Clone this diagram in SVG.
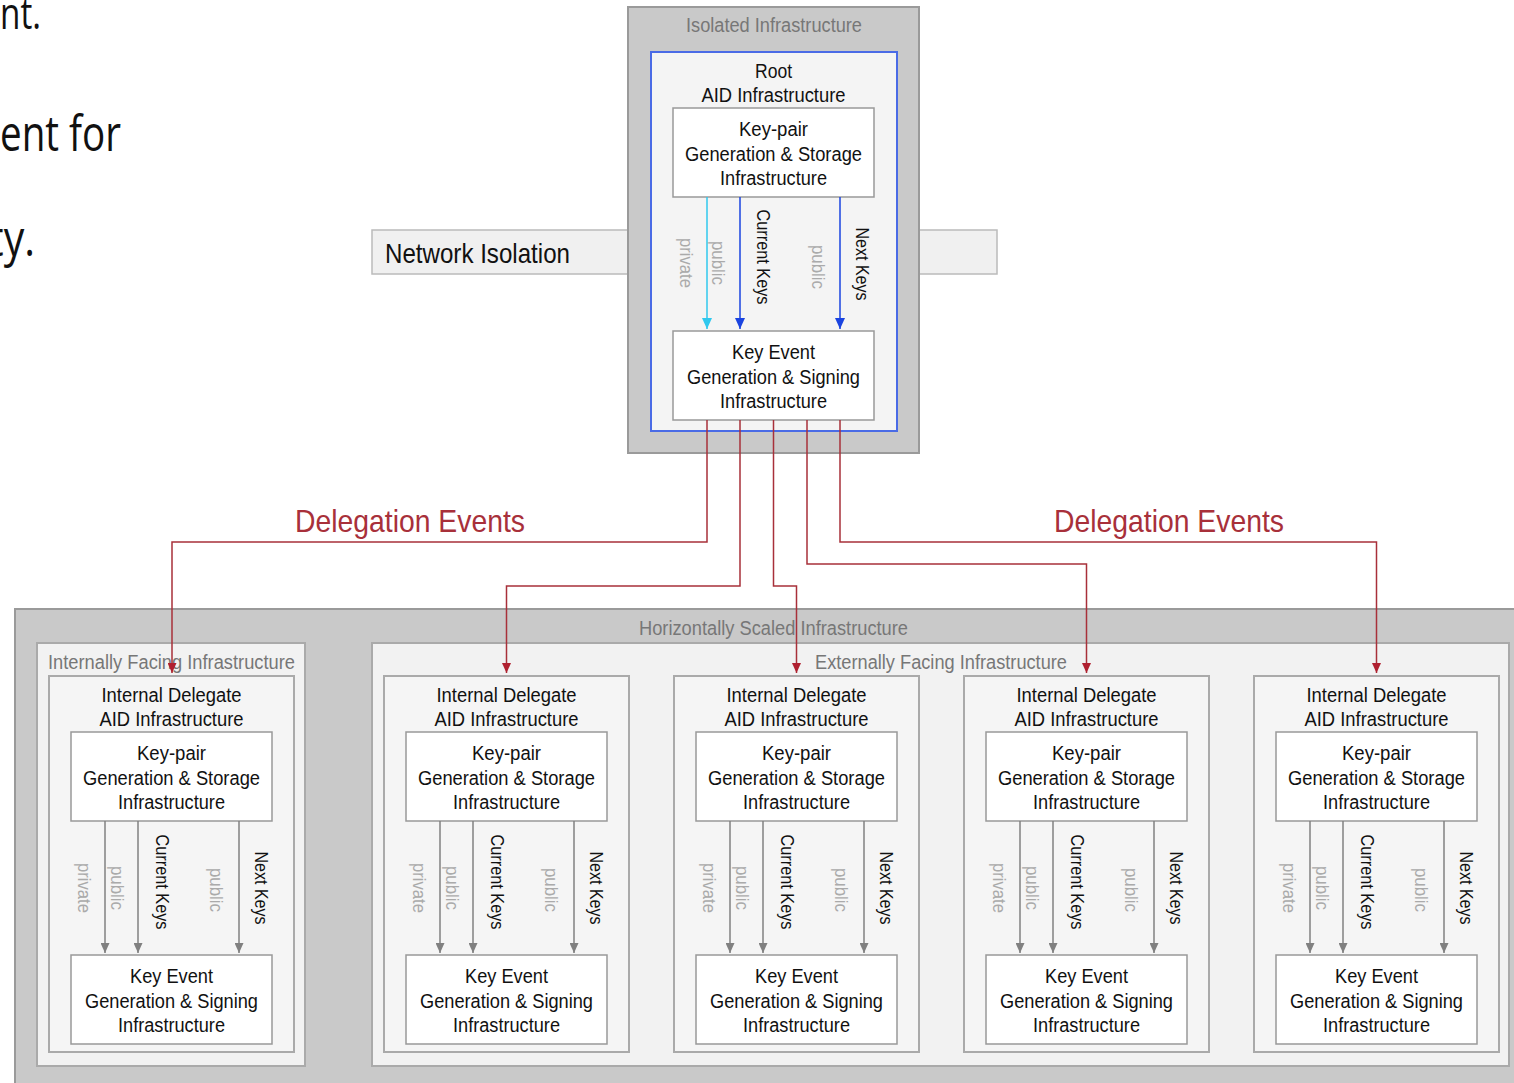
<svg xmlns="http://www.w3.org/2000/svg" width="1514" height="1083" viewBox="0 0 1514 1083">
<style>
.t{font-family:"Liberation Sans",Arial,sans-serif;font-size:20px;fill:#111;text-anchor:middle}
.gt{fill:#777}
.lbl{font-size:18px;dominant-baseline:central}
.lg{fill:#aaa}
.slide{font-family:"Open Sans","Noto Sans",sans-serif;font-size:50px;fill:#111}
.dark{fill:#c9c9c9;stroke:#9a9a9a;stroke-width:2}
.panel{fill:#f2f2f2;stroke:#aaa;stroke-width:2}
.box{fill:#fff;stroke:#999;stroke-width:1.5}
.ga{stroke:#808080;stroke-width:1.5;fill:none;marker-end:url(#ag)}
.red{stroke:#a8303a;stroke-width:1.5;fill:none;marker-end:url(#ar)}
.red-t{font-family:"Liberation Sans",Arial,sans-serif;font-size:32px;fill:#a8303a;text-anchor:middle}
</style>
<defs>
<marker id="ag" markerUnits="userSpaceOnUse" markerWidth="10" markerHeight="9" refX="10" refY="4.5" orient="auto"><path d="M0,0 L10,4.5 L0,9 z" fill="#808080"/></marker>
<marker id="ar" markerUnits="userSpaceOnUse" markerWidth="10" markerHeight="9" refX="10" refY="4.5" orient="auto"><path d="M0,0 L10,4.5 L0,9 z" fill="#b02030"/></marker>
<marker id="ac" markerUnits="userSpaceOnUse" markerWidth="11" markerHeight="10" refX="11" refY="5" orient="auto"><path d="M0,0 L11,5 L0,10 z" fill="#30c8ee"/></marker>
<marker id="ab" markerUnits="userSpaceOnUse" markerWidth="11" markerHeight="10" refX="11" refY="5" orient="auto"><path d="M0,0 L11,5 L0,10 z" fill="#1a44e0"/></marker>
</defs>
<rect width="1514" height="1083" fill="#fff"/>

<g id="slide-text">
<text class="slide" x="0" y="29" style="font-size:44px" textLength="41" lengthAdjust="spacingAndGlyphs">nt.</text>
<text class="slide" x="0" y="151" textLength="121" lengthAdjust="spacingAndGlyphs">ent for</text>
<text class="slide" x="-11" y="256" textLength="46" lengthAdjust="spacingAndGlyphs">ty.</text>
</g>

<g id="network-isolation">
<rect x="372" y="230" width="625" height="44" fill="#f0f0f0" stroke="#bbb" stroke-width="1.5"/>
<text class="t" x="385" y="263" style="font-size:28px;text-anchor:start" textLength="185" lengthAdjust="spacingAndGlyphs">Network Isolation</text>
</g>

<g id="isolated-infrastructure">
<rect class="dark" x="628" y="7" width="291" height="446"/>
<text class="t gt" x="774" y="32" textLength="176" lengthAdjust="spacingAndGlyphs">Isolated Infrastructure</text>
</g>

<g id="root-aid">
<rect x="651" y="52" width="246" height="379" fill="#f4f4f4" stroke="#4a6be6" stroke-width="2"/>
<text class="t" x="773.5" y="78" textLength="37" lengthAdjust="spacingAndGlyphs">Root</text>
<text class="t" x="773.5" y="102" textLength="144" lengthAdjust="spacingAndGlyphs">AID Infrastructure</text>
</g>
<g id="root-keypair">
<rect class="box" x="673" y="108" width="201" height="89"/>
<text class="t" x="773.5" y="136" textLength="69" lengthAdjust="spacingAndGlyphs">Key-pair</text>
<text class="t" x="773.5" y="161" textLength="177" lengthAdjust="spacingAndGlyphs">Generation &amp; Storage</text>
<text class="t" x="773.5" y="185" textLength="107" lengthAdjust="spacingAndGlyphs">Infrastructure</text>
</g>
<g id="root-keyevent">
<rect class="box" x="673" y="331" width="201" height="89"/>
<text class="t" x="773.5" y="359" textLength="83" lengthAdjust="spacingAndGlyphs">Key Event</text>
<text class="t" x="773.5" y="384" textLength="173" lengthAdjust="spacingAndGlyphs">Generation &amp; Signing</text>
<text class="t" x="773.5" y="408" textLength="107" lengthAdjust="spacingAndGlyphs">Infrastructure</text>
</g>

<g id="horizontally-scaled">
<rect class="dark" x="15" y="609" width="1510" height="490"/>
<text class="t gt" x="773.5" y="635" textLength="269" lengthAdjust="spacingAndGlyphs">Horizontally Scaled Infrastructure</text>
</g>
<g id="internally-facing">
<rect class="panel" x="37" y="643" width="268" height="423"/>
<text class="t gt" x="171.5" y="669" textLength="247" lengthAdjust="spacingAndGlyphs">Internally Facing Infrastructure</text>
</g>
<g id="externally-facing">
<rect class="panel" x="372" y="643" width="1137" height="423"/>
<text class="t gt" x="941" y="669" textLength="252" lengthAdjust="spacingAndGlyphs">Externally Facing Infrastructure</text>
</g>

<g id="delegate-1" transform="translate(171.5,0)">
<rect class="panel" x="-122.5" y="676" width="245" height="376" style="fill:#f5f5f5"/>
<text class="t" x="0" y="702" textLength="140" lengthAdjust="spacingAndGlyphs">Internal Delegate</text>
<text class="t" x="0" y="726" textLength="144" lengthAdjust="spacingAndGlyphs">AID Infrastructure</text>
<rect class="box" x="-100.5" y="732" width="201" height="89"/>
<text class="t" x="0" y="760" textLength="69" lengthAdjust="spacingAndGlyphs">Key-pair</text>
<text class="t" x="0" y="785" textLength="177" lengthAdjust="spacingAndGlyphs">Generation &amp; Storage</text>
<text class="t" x="0" y="809" textLength="107" lengthAdjust="spacingAndGlyphs">Infrastructure</text>
<rect class="box" x="-100.5" y="955" width="201" height="89"/>
<text class="t" x="0" y="983" textLength="83" lengthAdjust="spacingAndGlyphs">Key Event</text>
<text class="t" x="0" y="1008" textLength="173" lengthAdjust="spacingAndGlyphs">Generation &amp; Signing</text>
<text class="t" x="0" y="1032" textLength="107" lengthAdjust="spacingAndGlyphs">Infrastructure</text>
</g>
<g id="delegate-2" transform="translate(506.5,0)">
<rect class="panel" x="-122.5" y="676" width="245" height="376" style="fill:#f5f5f5"/>
<text class="t" x="0" y="702" textLength="140" lengthAdjust="spacingAndGlyphs">Internal Delegate</text>
<text class="t" x="0" y="726" textLength="144" lengthAdjust="spacingAndGlyphs">AID Infrastructure</text>
<rect class="box" x="-100.5" y="732" width="201" height="89"/>
<text class="t" x="0" y="760" textLength="69" lengthAdjust="spacingAndGlyphs">Key-pair</text>
<text class="t" x="0" y="785" textLength="177" lengthAdjust="spacingAndGlyphs">Generation &amp; Storage</text>
<text class="t" x="0" y="809" textLength="107" lengthAdjust="spacingAndGlyphs">Infrastructure</text>
<rect class="box" x="-100.5" y="955" width="201" height="89"/>
<text class="t" x="0" y="983" textLength="83" lengthAdjust="spacingAndGlyphs">Key Event</text>
<text class="t" x="0" y="1008" textLength="173" lengthAdjust="spacingAndGlyphs">Generation &amp; Signing</text>
<text class="t" x="0" y="1032" textLength="107" lengthAdjust="spacingAndGlyphs">Infrastructure</text>
</g>
<g id="delegate-3" transform="translate(796.5,0)">
<rect class="panel" x="-122.5" y="676" width="245" height="376" style="fill:#f5f5f5"/>
<text class="t" x="0" y="702" textLength="140" lengthAdjust="spacingAndGlyphs">Internal Delegate</text>
<text class="t" x="0" y="726" textLength="144" lengthAdjust="spacingAndGlyphs">AID Infrastructure</text>
<rect class="box" x="-100.5" y="732" width="201" height="89"/>
<text class="t" x="0" y="760" textLength="69" lengthAdjust="spacingAndGlyphs">Key-pair</text>
<text class="t" x="0" y="785" textLength="177" lengthAdjust="spacingAndGlyphs">Generation &amp; Storage</text>
<text class="t" x="0" y="809" textLength="107" lengthAdjust="spacingAndGlyphs">Infrastructure</text>
<rect class="box" x="-100.5" y="955" width="201" height="89"/>
<text class="t" x="0" y="983" textLength="83" lengthAdjust="spacingAndGlyphs">Key Event</text>
<text class="t" x="0" y="1008" textLength="173" lengthAdjust="spacingAndGlyphs">Generation &amp; Signing</text>
<text class="t" x="0" y="1032" textLength="107" lengthAdjust="spacingAndGlyphs">Infrastructure</text>
</g>
<g id="delegate-4" transform="translate(1086.5,0)">
<rect class="panel" x="-122.5" y="676" width="245" height="376" style="fill:#f5f5f5"/>
<text class="t" x="0" y="702" textLength="140" lengthAdjust="spacingAndGlyphs">Internal Delegate</text>
<text class="t" x="0" y="726" textLength="144" lengthAdjust="spacingAndGlyphs">AID Infrastructure</text>
<rect class="box" x="-100.5" y="732" width="201" height="89"/>
<text class="t" x="0" y="760" textLength="69" lengthAdjust="spacingAndGlyphs">Key-pair</text>
<text class="t" x="0" y="785" textLength="177" lengthAdjust="spacingAndGlyphs">Generation &amp; Storage</text>
<text class="t" x="0" y="809" textLength="107" lengthAdjust="spacingAndGlyphs">Infrastructure</text>
<rect class="box" x="-100.5" y="955" width="201" height="89"/>
<text class="t" x="0" y="983" textLength="83" lengthAdjust="spacingAndGlyphs">Key Event</text>
<text class="t" x="0" y="1008" textLength="173" lengthAdjust="spacingAndGlyphs">Generation &amp; Signing</text>
<text class="t" x="0" y="1032" textLength="107" lengthAdjust="spacingAndGlyphs">Infrastructure</text>
</g>
<g id="delegate-5" transform="translate(1376.5,0)">
<rect class="panel" x="-122.5" y="676" width="245" height="376" style="fill:#f5f5f5"/>
<text class="t" x="0" y="702" textLength="140" lengthAdjust="spacingAndGlyphs">Internal Delegate</text>
<text class="t" x="0" y="726" textLength="144" lengthAdjust="spacingAndGlyphs">AID Infrastructure</text>
<rect class="box" x="-100.5" y="732" width="201" height="89"/>
<text class="t" x="0" y="760" textLength="69" lengthAdjust="spacingAndGlyphs">Key-pair</text>
<text class="t" x="0" y="785" textLength="177" lengthAdjust="spacingAndGlyphs">Generation &amp; Storage</text>
<text class="t" x="0" y="809" textLength="107" lengthAdjust="spacingAndGlyphs">Infrastructure</text>
<rect class="box" x="-100.5" y="955" width="201" height="89"/>
<text class="t" x="0" y="983" textLength="83" lengthAdjust="spacingAndGlyphs">Key Event</text>
<text class="t" x="0" y="1008" textLength="173" lengthAdjust="spacingAndGlyphs">Generation &amp; Signing</text>
<text class="t" x="0" y="1032" textLength="107" lengthAdjust="spacingAndGlyphs">Infrastructure</text>
</g>

<g id="connectors">
<g id="root-key-arrows">
<line x1="707" y1="197" x2="707" y2="329" stroke="#30c8ee" stroke-width="1.5" marker-end="url(#ac)"/>
<line x1="740" y1="197" x2="740" y2="329" stroke="#1a44e0" stroke-width="1.5" marker-end="url(#ab)"/>
<line x1="840" y1="197" x2="840" y2="329" stroke="#1a44e0" stroke-width="1.5" marker-end="url(#ab)"/>
<text class="t lbl lg" transform="translate(686,263) rotate(90)" textLength="50" lengthAdjust="spacingAndGlyphs">private</text>
<text class="t lbl lg" transform="translate(718,263) rotate(90)" textLength="44" lengthAdjust="spacingAndGlyphs">public</text>
<text class="t lbl" transform="translate(763,257) rotate(90)" textLength="95" lengthAdjust="spacingAndGlyphs">Current Keys</text>
<text class="t lbl lg" transform="translate(818,267) rotate(90)" textLength="44" lengthAdjust="spacingAndGlyphs">public</text>
<text class="t lbl" transform="translate(862,264) rotate(90)" textLength="73" lengthAdjust="spacingAndGlyphs">Next Keys</text>
</g>
<g id="delegation-events">
<path class="red" d="M707,420 V542 H172 V673"/>
<path class="red" d="M740,420 V586 H506.5 V673"/>
<path class="red" d="M773.5,420 V586 H796.5 V673"/>
<path class="red" d="M807,420 V564 H1086.5 V673"/>
<path class="red" d="M840,420 V542 H1376.5 V673"/>
<text class="red-t" x="410" y="532" textLength="230" lengthAdjust="spacingAndGlyphs">Delegation Events</text>
<text class="red-t" x="1169" y="532" textLength="230" lengthAdjust="spacingAndGlyphs">Delegation Events</text>
</g>
<g id="delegate-key-arrows-1" transform="translate(171.5,0)">
<line class="ga" x1="-66.5" y1="821" x2="-66.5" y2="953"/>
<line class="ga" x1="-33.5" y1="821" x2="-33.5" y2="953"/>
<line class="ga" x1="67.5" y1="821" x2="67.5" y2="953"/>
<text class="t lbl lg" transform="translate(-87.5,888) rotate(90)" textLength="50" lengthAdjust="spacingAndGlyphs">private</text>
<text class="t lbl lg" transform="translate(-55,888) rotate(90)" textLength="44" lengthAdjust="spacingAndGlyphs">public</text>
<text class="t lbl" transform="translate(-10,882) rotate(90)" textLength="95" lengthAdjust="spacingAndGlyphs">Current Keys</text>
<text class="t lbl lg" transform="translate(44,890) rotate(90)" textLength="44" lengthAdjust="spacingAndGlyphs">public</text>
<text class="t lbl" transform="translate(89.5,888) rotate(90)" textLength="73" lengthAdjust="spacingAndGlyphs">Next Keys</text>
</g>
<g id="delegate-key-arrows-2" transform="translate(506.5,0)">
<line class="ga" x1="-66.5" y1="821" x2="-66.5" y2="953"/>
<line class="ga" x1="-33.5" y1="821" x2="-33.5" y2="953"/>
<line class="ga" x1="67.5" y1="821" x2="67.5" y2="953"/>
<text class="t lbl lg" transform="translate(-87.5,888) rotate(90)" textLength="50" lengthAdjust="spacingAndGlyphs">private</text>
<text class="t lbl lg" transform="translate(-55,888) rotate(90)" textLength="44" lengthAdjust="spacingAndGlyphs">public</text>
<text class="t lbl" transform="translate(-10,882) rotate(90)" textLength="95" lengthAdjust="spacingAndGlyphs">Current Keys</text>
<text class="t lbl lg" transform="translate(44,890) rotate(90)" textLength="44" lengthAdjust="spacingAndGlyphs">public</text>
<text class="t lbl" transform="translate(89.5,888) rotate(90)" textLength="73" lengthAdjust="spacingAndGlyphs">Next Keys</text>
</g>
<g id="delegate-key-arrows-3" transform="translate(796.5,0)">
<line class="ga" x1="-66.5" y1="821" x2="-66.5" y2="953"/>
<line class="ga" x1="-33.5" y1="821" x2="-33.5" y2="953"/>
<line class="ga" x1="67.5" y1="821" x2="67.5" y2="953"/>
<text class="t lbl lg" transform="translate(-87.5,888) rotate(90)" textLength="50" lengthAdjust="spacingAndGlyphs">private</text>
<text class="t lbl lg" transform="translate(-55,888) rotate(90)" textLength="44" lengthAdjust="spacingAndGlyphs">public</text>
<text class="t lbl" transform="translate(-10,882) rotate(90)" textLength="95" lengthAdjust="spacingAndGlyphs">Current Keys</text>
<text class="t lbl lg" transform="translate(44,890) rotate(90)" textLength="44" lengthAdjust="spacingAndGlyphs">public</text>
<text class="t lbl" transform="translate(89.5,888) rotate(90)" textLength="73" lengthAdjust="spacingAndGlyphs">Next Keys</text>
</g>
<g id="delegate-key-arrows-4" transform="translate(1086.5,0)">
<line class="ga" x1="-66.5" y1="821" x2="-66.5" y2="953"/>
<line class="ga" x1="-33.5" y1="821" x2="-33.5" y2="953"/>
<line class="ga" x1="67.5" y1="821" x2="67.5" y2="953"/>
<text class="t lbl lg" transform="translate(-87.5,888) rotate(90)" textLength="50" lengthAdjust="spacingAndGlyphs">private</text>
<text class="t lbl lg" transform="translate(-55,888) rotate(90)" textLength="44" lengthAdjust="spacingAndGlyphs">public</text>
<text class="t lbl" transform="translate(-10,882) rotate(90)" textLength="95" lengthAdjust="spacingAndGlyphs">Current Keys</text>
<text class="t lbl lg" transform="translate(44,890) rotate(90)" textLength="44" lengthAdjust="spacingAndGlyphs">public</text>
<text class="t lbl" transform="translate(89.5,888) rotate(90)" textLength="73" lengthAdjust="spacingAndGlyphs">Next Keys</text>
</g>
<g id="delegate-key-arrows-5" transform="translate(1376.5,0)">
<line class="ga" x1="-66.5" y1="821" x2="-66.5" y2="953"/>
<line class="ga" x1="-33.5" y1="821" x2="-33.5" y2="953"/>
<line class="ga" x1="67.5" y1="821" x2="67.5" y2="953"/>
<text class="t lbl lg" transform="translate(-87.5,888) rotate(90)" textLength="50" lengthAdjust="spacingAndGlyphs">private</text>
<text class="t lbl lg" transform="translate(-55,888) rotate(90)" textLength="44" lengthAdjust="spacingAndGlyphs">public</text>
<text class="t lbl" transform="translate(-10,882) rotate(90)" textLength="95" lengthAdjust="spacingAndGlyphs">Current Keys</text>
<text class="t lbl lg" transform="translate(44,890) rotate(90)" textLength="44" lengthAdjust="spacingAndGlyphs">public</text>
<text class="t lbl" transform="translate(89.5,888) rotate(90)" textLength="73" lengthAdjust="spacingAndGlyphs">Next Keys</text>
</g>
</g>
</svg>
